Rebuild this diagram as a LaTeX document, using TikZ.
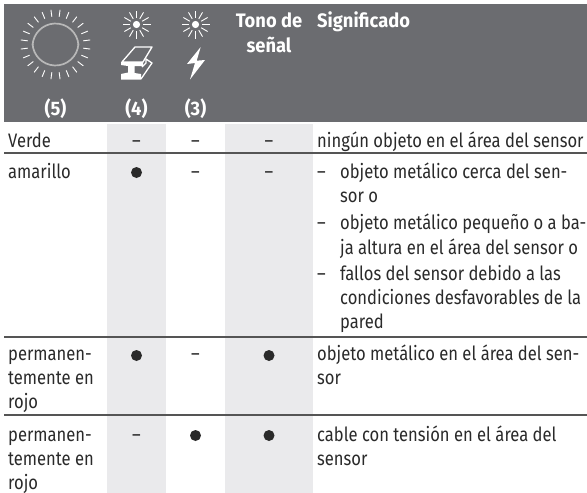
\documentclass[tikz,border=0pt]{standalone}
\usepackage{fontspec}
\setmainfont[FakeStretch=0.85]{Fira Sans}
\newfontfamily\hdfont[FakeStretch=0.94]{Fira Sans}
\definecolor{hdr}{HTML}{6B6C70}
\definecolor{zebra}{HTML}{EAEAEC}
\definecolor{ringc}{HTML}{B8B8B8}
\definecolor{rule}{HTML}{555555}
\definecolor{ink}{HTML}{2A2A2A}
\tikzset{
  cell/.style={anchor=base west,inner sep=0pt,text=ink,font=\fontsize{19.5}{24}\selectfont},
  dashc/.style={anchor=base,inner sep=0pt,text=ink,font=\fontsize{19.5}{24}\selectfont},
  headc/.style={anchor=base,inner sep=0pt,text=white,font=\fontsize{19.5}{24}\selectfont\hdfont\bfseries},
  dotm/.style={circle,fill=ink,draw=none,minimum size=11pt,inner sep=0pt},
  rowline/.style={draw=rule,line width=1.2pt},
  ray/.style={draw=white,line width=0.9pt},
  iconline/.style={draw=white,line width=1.3pt,line join=round}
}
\newcommand{\sunicon}[2]{%
  \fill[white] (#1,#2) circle[radius=3.6];
  \foreach \a in {0,30,...,330}
    \draw[ray] ({#1+6.5*cos(\a)},{#2+6.5*sin(\a)}) -- ({#1+14*cos(\a)},{#2+14*sin(\a)});
}
\begin{document}
\begin{tikzpicture}[x=1pt,y=-1pt]
\useasboundingbox (0,0) rectangle (587,493);
\fill[white] (0,0) rectangle (587,493);
\fill[hdr] (4,4) rectangle (587,122);
\fill[zebra] (107,124) rectangle (166,493);
\fill[zebra] (225,124) rectangle (313,493);
\draw[rowline] (4,153) -- (587,153);
\draw[rowline] (4,337) -- (587,337);
\draw[rowline] (4,415) -- (587,415);
% ring
\draw[ringc,line width=1.7pt] (55.5,42.5) ++(3:23) arc[start angle=3,end angle=177,radius=23];
\draw[ringc,line width=1.7pt] (55.5,46.5) ++(-3:23) arc[start angle=-3,end angle=-177,radius=23];
\foreach \a in {7.5,22.5,...,352.5}
  \draw[ray] ({55.5+28*cos(\a)},{44.5+28*sin(\a)}) -- ({55.5+35*cos(\a)},{44.5+35*sin(\a)});
\sunicon{136.5}{24.5}
\sunicon{195.5}{24.5}
% beam
\draw[iconline] (122,62) -- (135,47) -- (152,47) -- (143,62) -- cycle;
\fill[white] (121,62) -- (143,62) -- (143,66) -- (134.5,66) -- (134.5,73) -- (141,74) -- (141,79.5) -- (121,79.5) -- (121,74) -- (128,72.5) -- (128,66) -- (121,65) -- cycle;
\draw[iconline] (141,79) -- (152,63) -- (146,59) -- (146,63) -- (142,67);
% bolt
\fill[white] (200.7,47) -- (187,64) -- (195,63) -- (190,79.5) -- (205,60) -- (196.7,60.7) -- cycle;
% header
\node[headc] (h5) at (55.5,115) {(5)};
\node[headc] (h4) at (136.5,115) {(4)};
\node[headc] (h3) at (195.5,115) {(3)};
\node[headc] (t1) at (269,27) {Tono de};
\node[headc] (t2) at (269,52) {señal};
\node[headc,anchor=base west] (sig) at (317,27) {Significado};
% row 1
\node[cell] (r1) at (8,147) {Verde};
\node[dashc] (r1a) at (136.5,147) {–};
\node[dashc] (r1b) at (195.5,147) {–};
\node[dashc] (r1c) at (269,147) {–};
\node[cell] (r1d) at (317,147) {ningún objeto en el área del sensor};
% row 2
\node[cell] (r2) at (8,178) {amarillo};
\node[dotm] (r2a) at (136.5,172.5) {};
\node[dashc] (r2b) at (195.5,178) {–};
\node[dashc] (r2c) at (269,178) {–};
\node[cell] (d1) at (317,178) {–};
\node[cell] (s1) at (340,178) {objeto metálico cerca del sen-};
\node[cell] (s2) at (340,202) {sor o};
\node[cell] (d2) at (317,229) {–};
\node[cell] (s3) at (340,229) {objeto metálico pequeño o a ba-};
\node[cell] (s4) at (340,254) {ja altura en el área del sensor o};
\node[cell] (d3) at (317,280) {–};
\node[cell] (s5) at (340,280) {fallos del sensor debido a las};
\node[cell] (s6) at (340,304) {condiciones desfavorables de la};
\node[cell] (s7) at (340,328) {pared};
% row 3
\node[cell] (r3) at (8,360) {permanen-};
\node[cell] (r3x) at (8,384) {temente en};
\node[cell] (r3y) at (8,408) {rojo};
\node[dotm] (r3a) at (136.5,355.5) {};
\node[dashc] (r3b) at (195.5,360) {–};
\node[dotm] (r3c) at (269,355.5) {};
\node[cell] (r3d) at (317,360) {objeto metálico en el área del sen-};
\node[cell] (r3e) at (317,384) {sor};
% row 4
\node[cell] (r4) at (8,441) {permanen-};
\node[cell] (r4x) at (8,465) {temente en};
\node[cell] (r4y) at (8,489) {rojo};
\node[dashc] (r4a) at (136.5,441) {–};
\node[dotm] (r4b) at (195.5,435.5) {};
\node[dotm] (r4c) at (269,435.5) {};
\node[cell] (r4d) at (317,441) {cable con tensión en el área del};
\node[cell] (r4e) at (317,465) {sensor};
\end{tikzpicture}
\end{document}
